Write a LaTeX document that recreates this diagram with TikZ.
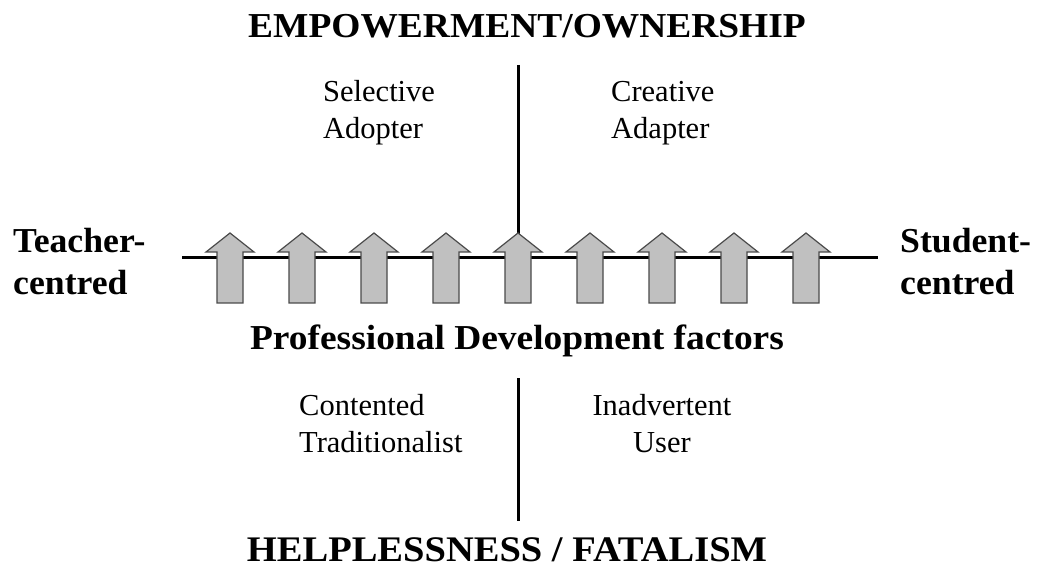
\documentclass[tikz,border=0pt]{standalone}
\usepackage{fontspec}
\setmainfont{Liberation Serif}
\newfontfamily\headfont[FakeStretch=1.07]{Liberation Serif}
\newfontfamily\sidefont[FakeStretch=1.02]{Liberation Serif}
\definecolor{arrowfill}{HTML}{C0C0C0}
\definecolor{arrowline}{HTML}{4A4A4A}
\begin{document}
\begin{tikzpicture}[x=1pt,y=-1pt,
  heading/.style={font=\headfont\fontsize{35}{43}\selectfont\bfseries, inner sep=0pt, anchor=base},
  side/.style={font=\sidefont\fontsize{35}{43}\selectfont\bfseries, inner sep=0pt, align=left, anchor=base west},
  label/.style={font=\fontsize{30.5}{37}\selectfont, inner sep=0pt, anchor=base west},
  axis/.style={line width=3pt},
  pdarrow/.style={fill=arrowfill, draw=arrowline, line width=1.2pt, line join=miter}
]
\useasboundingbox (0,0) rectangle (1037,572);

% headings
\node[heading] (top) at (527,38) {EMPOWERMENT/OWNERSHIP};
\node[heading] (pd) at (517,349) {Professional Development factors};
\node[heading, font=\fontsize{36}{43}\selectfont\headfont\bfseries] (bottom) at (507,561) {HELPLESSNESS / FATALISM};

% side labels (anchor = baseline of last line)
\node[side] (teacher) at (13,295) {Teacher-\\centred};
\node[side] (student) at (900,295) {Student-\\centred};

% quadrant labels
\node[label, align=left] (sel) at (323,139) {Selective\\Adopter};
\node[label, align=left] (cre) at (611,139) {Creative\\Adapter};
\node[label, align=left] (con) at (299,452) {Contented\\Traditionalist};
\node[label, align=center, anchor=base] (ina) at (662,452) {Inadvertent\\User};

% axes
\coordinate (hl) at (182,258);
\coordinate (hr) at (878,258);
\coordinate (vt) at (518,65);
\coordinate (vm) at (518,258);
\coordinate (vb1) at (518,378);
\coordinate (vb2) at (518,521);
\draw[axis] (hl) -- (hr);
\draw[axis] (vt) -- (vm);
\draw[axis] (vb1) -- (vb2);

% professional development arrows
\foreach \i in {0,...,8} {
  \pgfmathsetmacro{\cx}{230+72*\i}
  \draw[pdarrow] (\cx-13,303) -- (\cx-13,252) -- (\cx-24,252) -- (\cx,233)
     -- (\cx+24,252) -- (\cx+13,252) -- (\cx+13,303) -- cycle;
}
\end{tikzpicture}
\end{document}
